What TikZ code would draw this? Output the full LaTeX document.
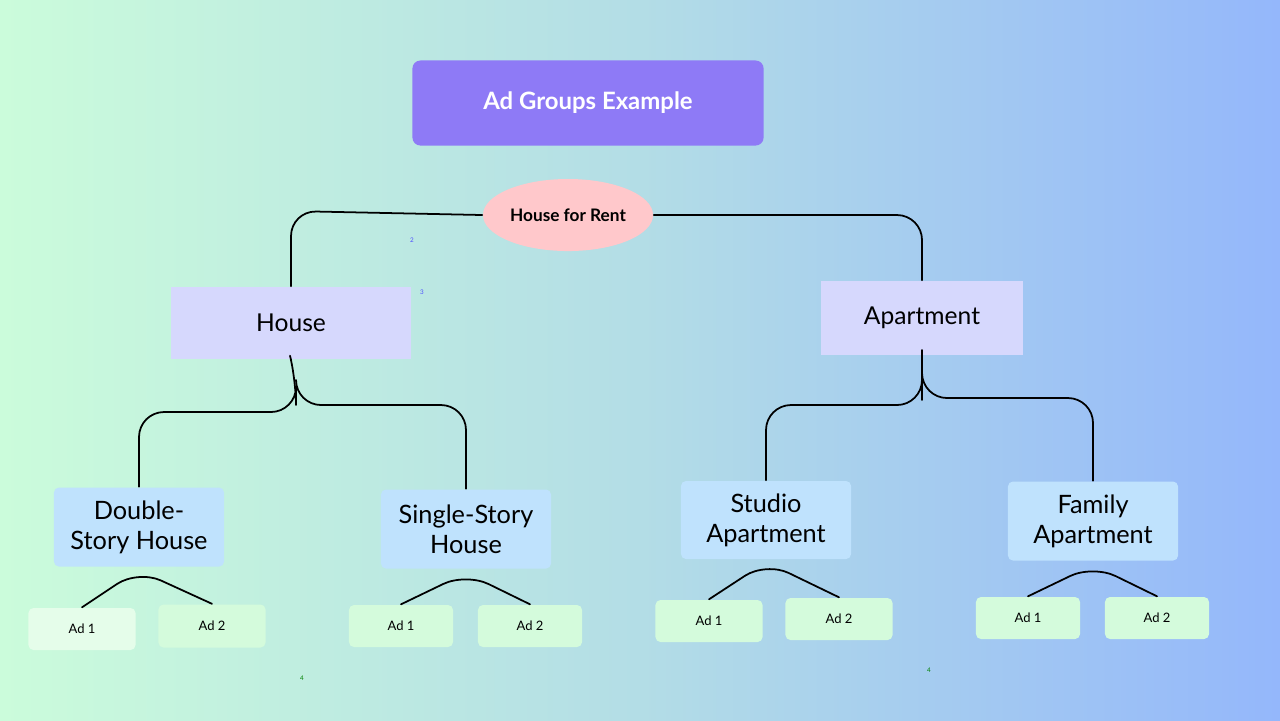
\documentclass[tikz,border=0pt]{standalone}
\usepackage{fontspec}
\setmainfont{Lato}
\usetikzlibrary{shapes.geometric}
\definecolor{bgleft}{HTML}{CBFCDB}
\definecolor{bgmid}{HTML}{B3DDE6}
\definecolor{bgright}{HTML}{94B7FB}
\definecolor{titlefill}{HTML}{8E7AF6}
\definecolor{rootfill}{HTML}{FFC8CB}
\definecolor{groupfill}{HTML}{D6D8FD}
\definecolor{typefill}{HTML}{BFE2FD}
\definecolor{adfill}{HTML}{D4FBDC}
\tikzset{
  groupbox/.style={fill=groupfill, minimum width=2.4cm, minimum height=0.72cm, font=\fontsize{7}{8}\selectfont},
  typebox/.style={fill=typefill, rounded corners=0.05cm, minimum width=1.7cm, minimum height=0.79cm, align=center, font=\fontsize{7.2}{8.6}\selectfont},
  adbox/.style={fill=adfill, rounded corners=0.05cm, minimum width=1.07cm, minimum height=0.42cm, font=\fontsize{3.7}{4.4}\selectfont},
  link/.style={black, line width=0.5pt, rounded corners=0.25cm},
  tick/.style={font=\fontsize{1.8}{2}\selectfont}
}
\begin{document}
\begin{tikzpicture}[x=0.01cm, y=-0.01cm, line cap=round, line join=round]
  \shade[left color=bgleft, right color=bgright, middle color=bgmid] (0,0) rectangle (1280,720);
  \useasboundingbox (0,0) rectangle (1280,720);

  \node[fill=titlefill, rounded corners=0.08cm, minimum width=3.51cm, minimum height=0.85cm,
        text=white, font=\bfseries\fontsize{6.8}{8}\selectfont] (title) at (588,103) {Ad Groups Example};
  \node[ellipse, fill=rootfill, minimum width=1.7cm, minimum height=0.72cm, inner sep=0pt,
        font=\bfseries\fontsize{4.9}{6}\selectfont] (root) at (568,215) {House for Rent};

  \node[groupbox] (house) at (291,323) {House};
  \node[groupbox, minimum width=2.01cm, minimum height=0.74cm] (apt) at (922,318) {Apartment};

  \node[typebox] (double) at (139,527) {Double-\\Story House};
  \node[typebox] (single) at (466,529) {Single-Story\\House};
  \node[typebox, minimum height=0.78cm] (studio) at (766,520) {Studio\\Apartment};
  \node[typebox] (family) at (1093,521) {Family\\Apartment};

  \node[adbox, fill=adfill!60] (dad1) at (82,629) {Ad 1};
  \node[adbox, minimum height=0.43cm] (dad2) at (212,626) {Ad 2};
  \node[adbox, minimum width=1.04cm] (sad1) at (401,626) {Ad 1};
  \node[adbox, minimum width=1.04cm] (sad2) at (530,626) {Ad 2};
  \node[adbox] (tad1) at (709,621) {Ad 1};
  \node[adbox] (tad2) at (839,619) {Ad 2};
  \node[adbox, minimum width=1.04cm] (fad1) at (1028,618) {Ad 1};
  \node[adbox, minimum width=1.04cm] (fad2) at (1157,618) {Ad 2};

  % tree links
  \draw[link] (root.west) -- (291,211) -- (house.north);
  \draw[link] (root.east) -- (922,215) -- (apt.north);
  \draw[link] (house.south) -- (296,380) -- (296,412) -- (139,412) -- (double.north);
  \draw[link] (296,380) -- (296,405) -- (466,405) -- (single.north);
  \draw[link] (apt.south) -- (922,375) -- (922,405) -- (766,405) -- (studio.north);
  \draw[link] (922,375) -- (922,398) -- (1093,398) -- (family.north);

  % ad links
  \coordinate (dtop) at (138,570);
  \coordinate (stop) at (466,573);
  \coordinate (ttop) at (766,562);
  \coordinate (ftop) at (1093,565);
  \draw[link] (dad1.north) -- (dtop) -- (dad2.north);
  \draw[link] (sad1.north) -- (stop) -- (sad2.north);
  \draw[link] (tad1.north) -- (ttop) -- (tad2.north);
  \draw[link] (fad1.north) -- (ftop) -- (fad2.north);

  % stray marks
  \node[tick, text=blue!70] (m2) at (412,240) {2};
  \node[tick, text=blue!70] (m3) at (422,292) {3};
  \node[tick, text=green!50!black] (m4) at (302,678) {4};
  \node[tick, text=green!50!black] (m5) at (929,670) {4};
\end{tikzpicture}
\end{document}
